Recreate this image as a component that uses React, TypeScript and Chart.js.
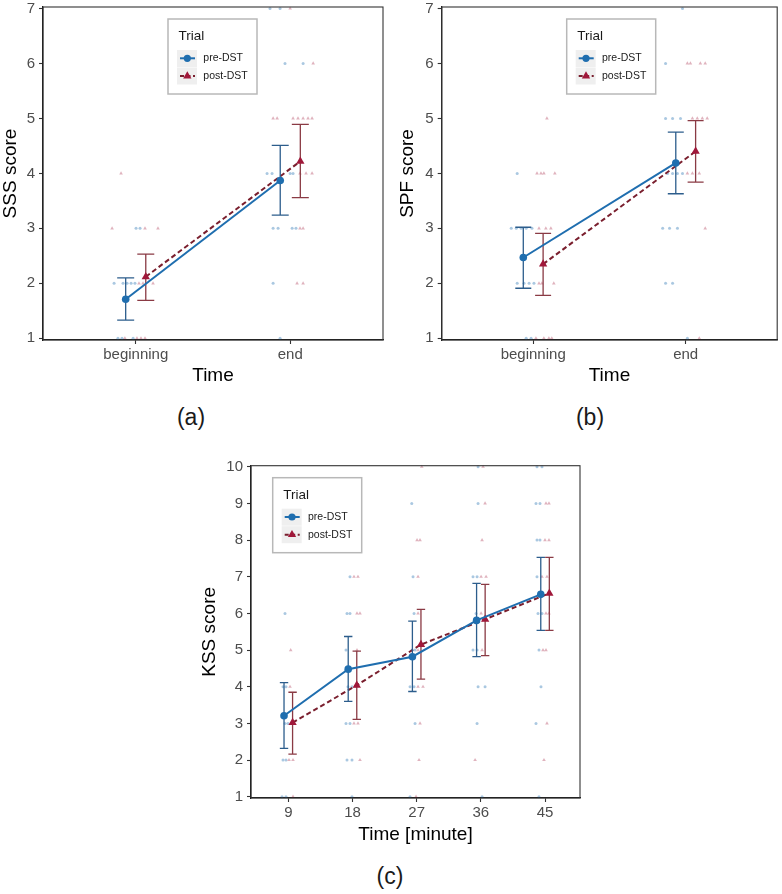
import React, { useEffect, useRef } from 'react';
import { Chart, registerables } from 'chart.js';

Chart.register(...registerables);

const FONT = "'Liberation Sans', Arial, Helvetica, sans-serif";

// ---------- shared ----------
const trialNames = ['pre-DST', 'post-DST'];
const legendTitle = 'Trial';
const timeCats = ['beginning', 'end'];
const timePos = [1, 2];
const yTicks7 = [1, 2, 3, 4, 5, 6, 7];

// ---------- panel (a) SSS ----------
const sssPreMean = [1.71, 3.87];
const sssPreLo = [1.33, 3.24];
const sssPreHi = [2.1, 4.51];
const sssPostMean = [2.12, 4.22];
const sssPostLo = [1.69, 3.56];
const sssPostHi = [2.53, 4.89];
const sssPreRaw: number[][] = [
  [0.86, 2], [0.918, 2], [0.944, 2], [0.97, 2], [0.995, 2], [0.885, 1], [0.911, 1], [0.983, 1],
  [1.002, 3], [1.028, 3], [1.934, 7], [1.869, 7], [1.966, 6], [1.85, 4], [1.882, 4], [1.999, 4],
  [2.018, 4], [1.889, 3], [1.921, 3], [2.012, 3], [2.037, 3], [1.889, 2], [1.934, 1], [2.083, 6],
];
const sssPostRaw: number[][] = [
  [0.905, 4], [0.847, 3], [1.06, 3], [1.144, 3], [1.021, 2], [1.047, 2], [1.112, 2], [0.93, 1],
  [1.008, 1], [1.034, 1], [1.06, 1], [1.999, 7], [2.148, 6], [1.889, 5], [1.915, 5], [2.018, 5],
  [2.05, 5], [2.083, 5], [2.115, 5], [2.141, 5], [2.063, 4], [2.102, 4], [2.141, 4], [2.063, 3],
  [2.083, 3], [2.044, 2], [2.083, 2],
];

// ---------- panel (b) SPF ----------
const spfPreMean = [2.47, 4.19];
const spfPreLo = [1.91, 3.63];
const spfPreHi = [3.02, 4.75];
const spfPostMean = [2.35, 4.4];
const spfPostLo = [1.78, 3.84];
const spfPostHi = [2.91, 4.96];
const spfPreRaw: number[][] = [
  [0.895, 4], [0.856, 3], [0.889, 3], [0.921, 3], [0.954, 3], [0.992, 3], [0.895, 2], [0.94, 2],
  [0.973, 2], [0.954, 1], [0.986, 1], [1.005, 2], [1.868, 6], [1.868, 5], [1.914, 5], [1.966, 5],
  [1.881, 4], [1.914, 4], [1.946, 4], [1.979, 4], [1.849, 3], [1.894, 3], [1.946, 3], [1.868, 2],
  [1.914, 2], [2.011, 1], [1.979, 7],
];
const spfPostRaw: number[][] = [
  [1.09, 5], [1.025, 4], [1.051, 4], [1.07, 4], [1.142, 4], [1.038, 3], [1.083, 3], [1.116, 3],
  [1.038, 2], [1.057, 2], [1.135, 2], [1.018, 1], [1.07, 1], [1.103, 1], [1.122, 1], [2.011, 6],
  [2.031, 6], [2.096, 6], [2.128, 6], [2.044, 5], [2.076, 5], [2.109, 5], [2.141, 5], [2.011, 4],
  [2.044, 4], [2.089, 4], [2.128, 3], [2.089, 1],
];

// ---------- panel (c) KSS ----------
const kssMinutes = [9, 18, 27, 36, 45];
const yTicks10 = [1, 2, 3, 4, 5, 6, 7, 8, 9, 10];
const kssPreMean = [3.21, 4.48, 4.82, 5.81, 6.52];
const kssPreLo = [2.32, 3.6, 3.87, 4.82, 5.54];
const kssPreHi = [4.11, 5.37, 5.79, 6.82, 7.53];
const kssPostMean = [3.02, 4.04, 5.15, 5.84, 6.55];
const kssPostLo = [2.16, 3.11, 4.21, 4.85, 5.54];
const kssPostHi = [3.85, 4.97, 6.11, 6.79, 7.53];
const kssPreRaw: number[][] = [
  [8.54, 6], [8.26, 4], [8.68, 4], [8.54, 3], [8.96, 3], [8.26, 2], [8.68, 2], [8.12, 1], [8.68, 1],
  [17.65, 7], [17.23, 6], [17.65, 6], [17.09, 5], [17.37, 4], [17.93, 4], [17.09, 3], [17.65, 3],
  [17.23, 2], [17.93, 2], [17.93, 1], [26.31, 9], [26.49, 7], [26.63, 6], [26.35, 5], [26.77, 5],
  [26.07, 4], [26.63, 4], [26.77, 3], [26.07, 1], [35.61, 10], [35.61, 9], [34.9, 7], [35.47, 7],
  [35.33, 6], [34.9, 5], [35.47, 5], [35.61, 4], [36.59, 4], [35.47, 3], [36.17, 1], [43.87, 10],
  [44.57, 10], [43.73, 9], [44.29, 9], [43.87, 8], [44.29, 8], [43.87, 7], [44.01, 6], [44.57, 6],
  [44.15, 5], [44.43, 4], [43.73, 3], [44.15, 1],
];
const kssPostRaw: number[][] = [
  [9.34, 5], [9.24, 4], [9.52, 3], [9.1, 2], [9.66, 2], [9.66, 1], [18.21, 7], [18.77, 7],
  [18.63, 6], [19.05, 6], [18.63, 5], [18.35, 4], [18.21, 3], [18.77, 3], [19.05, 2], [27.71, 10],
  [27.05, 8], [27.47, 8], [27.19, 7], [27.19, 6], [27.19, 5], [27.19, 4], [27.89, 4], [27.47, 3],
  [27.33, 2], [26.91, 1], [36.31, 10], [36.59, 9], [36.17, 8], [36.03, 7], [36.73, 7], [36.03, 6],
  [36.17, 5], [35.19, 2], [45.13, 9], [45.55, 9], [44.99, 8], [45.55, 8], [44.57, 7], [45.27, 7],
  [45.13, 6], [45.55, 6], [44.71, 5], [45.13, 5], [45.27, 3], [44.85, 2],
];

// ---------- colours ----------
const PRE = '#1F6EAF';
const PRE_ERR = '#2C5D8C';
const POST = '#A0183A';
const POST_LINE = '#7A1F2E';
const POST_ERR = '#8A3A44';
const PRE_RAW = 'rgba(31,110,175,0.38)';
const POST_RAW = 'rgba(160,24,58,0.33)';

const errorBarPlugin = {
  id: 'errbars',
  beforeDatasetDraw(chart: any, args: any) {
    const ds: any = chart.data.datasets[args.index];
    if (!ds.errLo) return;
    const { ctx } = chart;
    const xs = chart.scales.x;
    const ys = chart.scales.y;
    ctx.save();
    ctx.strokeStyle = ds.errColor;
    ctx.lineWidth = 1.3;
    ctx.setLineDash([]);
    ds.data.forEach((p: any, i: number) => {
      const x = xs.getPixelForValue(p.x);
      const y1 = ys.getPixelForValue(ds.errLo[i]);
      const y2 = ys.getPixelForValue(ds.errHi[i]);
      const h = ds.capHalf;
      ctx.beginPath();
      ctx.moveTo(x, y1);
      ctx.lineTo(x, y2);
      ctx.moveTo(x - h, y1);
      ctx.lineTo(x + h, y1);
      ctx.moveTo(x - h, y2);
      ctx.lineTo(x + h, y2);
      ctx.stroke();
    });
    ctx.restore();
  },
};

const borderPlugin = {
  id: 'panelBorder',
  afterDatasetsDraw(chart: any) {
    const { ctx, chartArea: a } = chart;
    ctx.save();
    ctx.strokeStyle = '#333';
    ctx.lineWidth = 1.1;
    ctx.strokeRect(a.left, a.top, a.right - a.left, a.bottom - a.top);
    ctx.restore();
  },
};

const trialLegendPlugin = {
  id: 'trialLegend',
  afterDraw(chart: any, _args: any, opts: any) {
    const { ctx, chartArea } = chart;
    const L = chartArea.left + opts.dx;
    const T = chartArea.top + opts.dy;
    const W = 89;
    const H = 75;
    ctx.save();
    ctx.fillStyle = '#fff';
    ctx.fillRect(L, T, W, H);
    ctx.strokeStyle = '#b8b8b8';
    ctx.lineWidth = 1.5;
    ctx.strokeRect(L, T, W, H);
    ctx.fillStyle = '#1a1a1a';
    ctx.font = `13.5px ${FONT}`;
    ctx.textBaseline = 'middle';
    ctx.textAlign = 'left';
    ctx.fillText(legendTitle, L + 10.5, T + 17.5);
    ctx.fillStyle = '#efefef';
    ctx.fillRect(L + 9, T + 31, 20, 17);
    ctx.fillRect(L + 9, T + 48.5, 20, 17);
    const rows = [T + 39.3, T + 57];
    // pre
    ctx.strokeStyle = PRE;
    ctx.lineWidth = 2;
    ctx.beginPath();
    ctx.moveTo(L + 12, rows[0]);
    ctx.lineTo(L + 27, rows[0]);
    ctx.stroke();
    ctx.fillStyle = PRE;
    ctx.beginPath();
    ctx.arc(L + 19.3, rows[0], 3.6, 0, Math.PI * 2);
    ctx.fill();
    // post
    ctx.strokeStyle = POST_LINE;
    ctx.setLineDash([4, 2.5]);
    ctx.beginPath();
    ctx.moveTo(L + 12, rows[1]);
    ctx.lineTo(L + 27, rows[1]);
    ctx.stroke();
    ctx.setLineDash([]);
    ctx.fillStyle = POST;
    const r = 4.8;
    ctx.beginPath();
    ctx.moveTo(L + 19.3, rows[1] - r);
    ctx.lineTo(L + 19.3 + r * 0.866, rows[1] + r * 0.5);
    ctx.lineTo(L + 19.3 - r * 0.866, rows[1] + r * 0.5);
    ctx.closePath();
    ctx.fill();
    ctx.fillStyle = '#1a1a1a';
    ctx.font = `10.5px ${FONT}`;
    ctx.fillText(trialNames[0], L + 35.3, rows[0]);
    ctx.fillText(trialNames[1], L + 35.3, rows[1]);
    ctx.restore();
  },
};

type Panel = {
  xs: number[];
  xTicks: number[];
  xLabel: (v: number) => string;
  xMin: number;
  xMax: number;
  yTicks: number[];
  yMin: number;
  yMax: number;
  dodge: number;
  capHalf: number;
  preMean: number[];
  preLo: number[];
  preHi: number[];
  postMean: number[];
  postLo: number[];
  postHi: number[];
  preRaw: number[][];
  postRaw: number[][];
  xTitle: string;
  yTitle: string;
  padding: { left: number; top: number; right: number; bottom: number };
  yAxisW: number;
  xAxisH: number;
  yTitlePad: number;
  xTitlePad: number;
  legendDx: number;
  legendDy: number;
};

function makePanel(canvas: HTMLCanvasElement, p: Panel) {
  return new Chart(canvas, {
    type: 'scatter',
    data: {
      datasets: [
        {
          label: trialNames[0],
          data: p.xs.map((x, i) => ({ x: x - p.dodge, y: p.preMean[i] })),
          showLine: true,
          borderColor: PRE,
          backgroundColor: PRE,
          borderWidth: 2,
          pointStyle: 'circle',
          pointRadius: 3.8,
          pointBorderWidth: 0,
          pointBackgroundColor: PRE,
          errLo: p.preLo,
          errHi: p.preHi,
          errColor: PRE_ERR,
          capHalf: p.capHalf,
          clip: false,
        } as any,
        {
          label: trialNames[1],
          data: p.xs.map((x, i) => ({ x: x + p.dodge, y: p.postMean[i] })),
          showLine: true,
          borderColor: POST_LINE,
          backgroundColor: POST,
          borderWidth: 2,
          borderDash: [5, 3],
          pointStyle: 'triangle',
          pointRadius: 4.8,
          pointBorderWidth: 0,
          pointBackgroundColor: POST,
          errLo: p.postLo,
          errHi: p.postHi,
          errColor: POST_ERR,
          capHalf: p.capHalf,
          clip: false,
        } as any,
        {
          label: 'pre raw',
          data: p.preRaw.map(([x, y]) => ({ x, y })),
          pointStyle: 'circle',
          pointRadius: 1.5,
          pointBorderWidth: 0,
          backgroundColor: PRE_RAW,
          clip: false,
        } as any,
        {
          label: 'post raw',
          data: p.postRaw.map(([x, y]) => ({ x, y })),
          pointStyle: 'triangle',
          pointRadius: 2.1,
          pointBorderWidth: 0,
          backgroundColor: POST_RAW,
          clip: false,
        } as any,
      ],
    },
    options: {
      animation: false,
      responsive: false,
      devicePixelRatio: 1,
      events: [],
      layout: { padding: p.padding },
      plugins: {
        legend: { display: false },
        tooltip: { enabled: false },
        trialLegend: { dx: p.legendDx, dy: p.legendDy },
      } as any,
      scales: {
        x: {
          type: 'linear',
          min: p.xMin,
          max: p.xMax,
          afterBuildTicks: (s: any) => {
            s.ticks = p.xTicks.map((v) => ({ value: v }));
          },
          afterFit: (s: any) => {
            s.height = p.xAxisH;
            s.paddingLeft = 0;
            s.paddingRight = 0;
          },
          ticks: {
            autoSkip: false,
            maxRotation: 0,
            padding: 2,
            color: '#4d4d4d',
            font: { size: 15, family: FONT },
            callback: (v: any) => p.xLabel(Number(v)),
          },
          grid: { display: true, drawOnChartArea: false, drawTicks: true, tickLength: 4, tickColor: '#333', tickWidth: 1.1 },
          border: { display: true, color: '#111', width: 1.3 },
          title: {
            display: true,
            text: p.xTitle,
            color: '#000',
            font: { size: 19, family: FONT, lineHeight: 1 },
            padding: { top: 0, bottom: p.xTitlePad },
          },
        } as any,
        y: {
          type: 'linear',
          min: p.yMin,
          max: p.yMax,
          afterBuildTicks: (s: any) => {
            s.ticks = p.yTicks.map((v) => ({ value: v }));
          },
          afterFit: (s: any) => {
            s.width = p.yAxisW;
            s.paddingTop = 0;
            s.paddingBottom = 0;
          },
          ticks: {
            autoSkip: false,
            padding: 4,
            color: '#4d4d4d',
            font: { size: 15, family: FONT },
            callback: (v: any) => String(v),
          },
          grid: { display: true, drawOnChartArea: false, drawTicks: true, tickLength: 4, tickColor: '#333', tickWidth: 1.1 },
          border: { display: true, color: '#111', width: 1.3 },
          title: {
            display: true,
            text: p.yTitle,
            color: '#000',
            font: { size: 19, family: FONT, lineHeight: 1 },
            padding: { top: p.yTitlePad, bottom: 0 },
          },
        } as any,
      },
    } as any,
    plugins: [errorBarPlugin, borderPlugin, trialLegendPlugin],
  });
}

const catLabel = (v: number) => timeCats[timePos.indexOf(Math.round(v))] ?? '';

const panelA: Panel = {
  xs: timePos, xTicks: timePos, xLabel: catLabel, xMin: 0.4, xMax: 2.6,
  yTicks: yTicks7, yMin: 0.969, yMax: 7.027, dodge: 0.065, capHalf: 8.5,
  preMean: sssPreMean, preLo: sssPreLo, preHi: sssPreHi,
  postMean: sssPostMean, postLo: sssPostLo, postHi: sssPostHi,
  preRaw: sssPreRaw, postRaw: sssPostRaw,
  xTitle: 'Time', yTitle: 'SSS score',
  padding: { left: 0, top: 7, right: 7, bottom: 0 },
  yAxisW: 43, xAxisH: 50, yTitlePad: 1.3, xTitlePad: 4.5, legendDx: 125, legendDy: 12,
};

const panelB: Panel = {
  xs: timePos, xTicks: timePos, xLabel: catLabel, xMin: 0.4, xMax: 2.6,
  yTicks: yTicks7, yMin: 0.969, yMax: 7.027, dodge: 0.065, capHalf: 8,
  preMean: spfPreMean, preLo: spfPreLo, preHi: spfPreHi,
  postMean: spfPostMean, postLo: spfPostLo, postHi: spfPostHi,
  preRaw: spfPreRaw, postRaw: spfPostRaw,
  xTitle: 'Time', yTitle: 'SPF score',
  padding: { left: 0, top: 7, right: 1.3, bottom: 0 },
  yAxisW: 51.7, xAxisH: 50, yTitlePad: 8.5, xTitlePad: 4.5, legendDx: 125, legendDy: 12,
};

const panelC: Panel = {
  xs: kssMinutes, xTicks: kssMinutes, xLabel: (v) => String(v), xMin: 3.77, xMax: 49.9,
  yTicks: yTicks10, yMin: 0.965, yMax: 10.03, dodge: 0.6, capHalf: 4.2,
  preMean: kssPreMean, preLo: kssPreLo, preHi: kssPreHi,
  postMean: kssPostMean, postLo: kssPostLo, postHi: kssPostHi,
  preRaw: kssPreRaw, postRaw: kssPostRaw,
  xTitle: 'Time [minute]', yTitle: 'KSS score',
  padding: { left: 0, top: 35.7, right: 10, bottom: 0 },
  yAxisW: 51, xAxisH: 52, yTitlePad: 0.5, xTitlePad: 5.5, legendDx: 21.7, legendDy: 12,
};

const captionStyle = (cx: number, top: number): React.CSSProperties => ({
  position: 'absolute',
  left: cx - 40,
  top,
  width: 80,
  textAlign: 'center',
  fontFamily: FONT,
  fontSize: 23,
  lineHeight: '1',
  color: '#1a1a1a',
});

export default function App() {
  const refA = useRef<HTMLCanvasElement>(null);
  const refB = useRef<HTMLCanvasElement>(null);
  const refC = useRef<HTMLCanvasElement>(null);

  useEffect(() => {
    const charts = [
      makePanel(refA.current!, panelA),
      makePanel(refB.current!, panelB),
      makePanel(refC.current!, panelC),
    ];
    return () => charts.forEach((c) => c.destroy());
  }, []);

  return (
    <div style={{ position: 'absolute', left: 0, top: 0, width: 782, height: 894, background: '#fff' }}>
      <canvas ref={refA} width={390} height={390} style={{ position: 'absolute', left: 0, top: 0, width: 390, height: 390 }} />
      <canvas ref={refB} width={392} height={390} style={{ position: 'absolute', left: 390, top: 0, width: 392, height: 390 }} />
      <canvas ref={refC} width={390} height={420} style={{ position: 'absolute', left: 200, top: 430, width: 390, height: 420 }} />
      <div style={captionStyle(191, 405.5)}>(a)</div>
      <div style={captionStyle(590, 405.5)}>(b)</div>
      <div style={captionStyle(390, 864.5)}>(c)</div>
    </div>
  );
}
